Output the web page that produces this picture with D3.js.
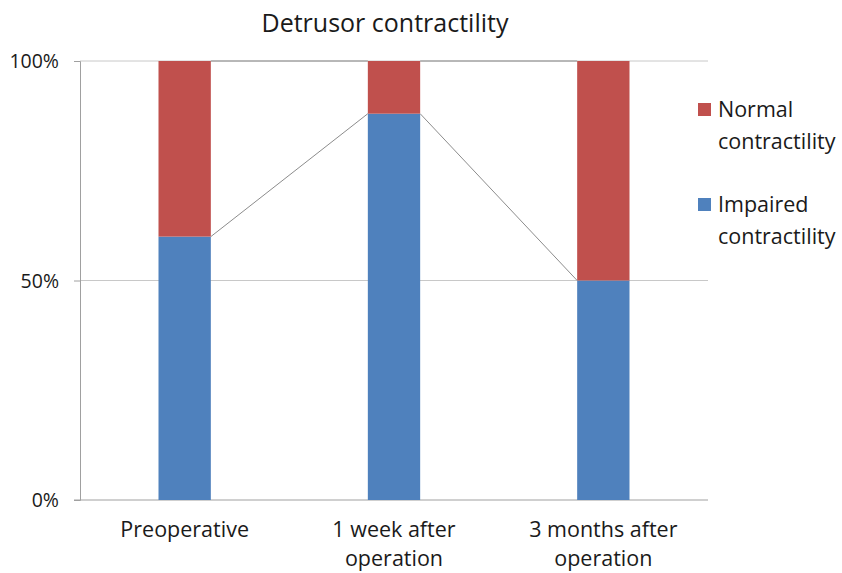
<!DOCTYPE html>
<html>
<head>
<meta charset="utf-8">
<script src="https://cdn.jsdelivr.net/npm/d3@7"></script>
<style>
  body { margin: 0; background: #fff; }
  text { font-family: "Open Sans", sans-serif; fill: #1a1a1a; }
</style>
</head>
<body>
<svg id="chart" width="842" height="573"></svg>
<script>
// data
var categories = [["Preoperative"], ["1 week after", "operation"], ["3 months after", "operation"]];
var impaired = [60, 88, 50];
var normal = [40, 12, 50];
var yTicks = [0, 50, 100];
var series = [
  { name: ["Impaired", "contractility"], values: impaired, color: "#4f81bd" },
  { name: ["Normal", "contractility"], values: normal, color: "#c0504d" }
];

var svg = d3.select("#chart");
var mLeft = 80, mRight = 708, mTop = 61, mBottom = 500;

var x = d3.scaleBand().domain(d3.range(categories.length))
  .range([mLeft, mRight]).paddingInner(0.75).paddingOuter(0.375);
var y = d3.scaleLinear().domain([0, 100]).range([mBottom, mTop]);

// gridlines
svg.append("g").selectAll("line").data(yTicks.filter(function(t){ return t > 0; }))
  .enter().append("line")
  .attr("x1", mLeft).attr("x2", mRight)
  .attr("y1", function(d){ return y(d); }).attr("y2", function(d){ return y(d); })
  .attr("stroke", "#c8c8c8").attr("stroke-width", 1);

// y axis
var yAxis = d3.axisLeft(y).tickValues(yTicks).tickSize(6).tickFormat(function(d){ return d + "%"; });
var ya = svg.append("g").attr("transform", "translate(" + mLeft + ",0)").call(yAxis);
ya.select(".domain").attr("stroke", "#a0a0a0");
ya.selectAll(".tick line").attr("stroke", "#a0a0a0");
ya.selectAll(".tick text").attr("x", -21).attr("dy", "0.35em")
  .style("font-size", "19.5px").attr("fill", "#1a1a1a");

// x axis line
svg.append("line").attr("x1", mLeft - 6).attr("x2", mRight)
  .attr("y1", mBottom).attr("y2", mBottom).attr("stroke", "#a0a0a0");

// stacked bars
var stack = d3.stack().keys([0, 1]).value(function(d, k){ return series[k].values[d]; });
var layers = stack(d3.range(categories.length));

svg.append("g").selectAll("g").data(layers).enter().append("g")
  .attr("fill", function(d, i){ return series[i].color; })
  .selectAll("rect").data(function(d){ return d; }).enter().append("rect")
  .attr("x", function(d, i){ return x(i); })
  .attr("width", x.bandwidth())
  .attr("y", function(d){ return y(d[1]); })
  .attr("height", function(d){ return y(d[0]) - y(d[1]); });

// series lines between bars
layers.forEach(function(layer) {
  for (var i = 0; i < layer.length - 1; i++) {
    svg.append("line")
      .attr("x1", x(i) + x.bandwidth()).attr("y1", y(layer[i][1]))
      .attr("x2", x(i + 1)).attr("y2", y(layer[i + 1][1]))
      .attr("stroke", "#8c8c8c").attr("stroke-width", 1);
  }
});

// x labels
categories.forEach(function(lines, i) {
  var t = svg.append("text").attr("text-anchor", "middle")
    .attr("x", x(i) + x.bandwidth() / 2).attr("y", 537).style("font-size", "21.5px");
  lines.forEach(function(l, j) {
    t.append("tspan").attr("x", x(i) + x.bandwidth() / 2).attr("dy", j ? 29 : 0).text(l);
  });
});

// title
svg.append("text").attr("x", 385).attr("y", 32).attr("text-anchor", "middle")
  .style("font-size", "25px").text("Detrusor contractility");

// legend (normal on top)
var legendItems = [series[1], series[0]];
var lg = svg.append("g").selectAll("g").data(legendItems).enter().append("g")
  .attr("transform", function(d, i){ return "translate(698," + (103 + i * 95) + ")"; });
lg.append("rect").attr("width", 13).attr("height", 13).attr("fill", function(d){ return d.color; });
lg.append("text").style("font-size", "21.5px").attr("y", 14)
  .each(function(d) {
    var t = d3.select(this);
    d.name.forEach(function(l, j) {
      t.append("tspan").attr("x", 20).attr("dy", j ? 32 : 0).text(l);
    });
  });
</script>
</body>
</html>
